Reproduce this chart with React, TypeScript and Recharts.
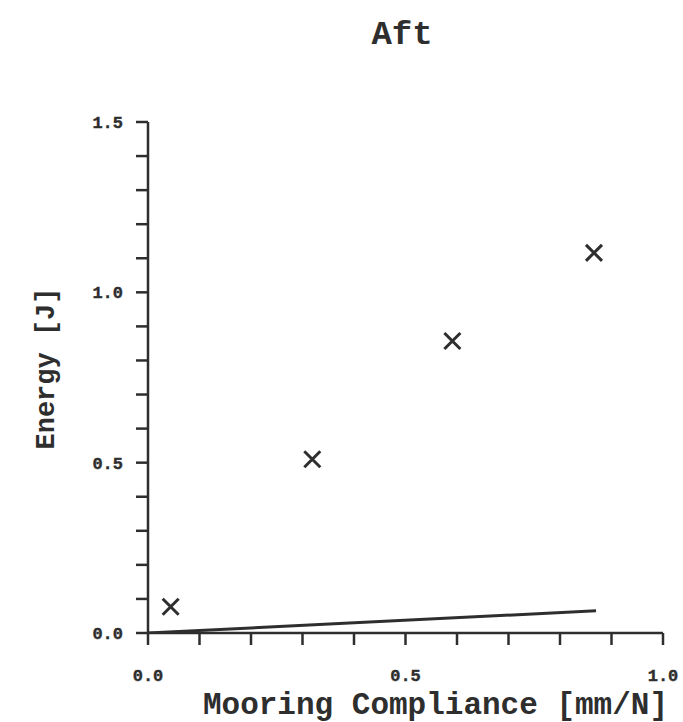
import React from 'react';
import { ScatterChart, Scatter, XAxis, YAxis, Label } from 'recharts';

// measured energy per mooring compliance (crosses)
const compliance = [0.044, 0.319, 0.591, 0.866];
const energy = [0.077, 0.51, 0.857, 1.116];

// theory line endpoints
const lineX = [0, 0.87];
const lineY = [0, 0.065];

const xTicks = [0, 0.1, 0.2, 0.3, 0.4, 0.5, 0.6, 0.7, 0.8, 0.9, 1.0];
const yTicks = [0, 0.1, 0.2, 0.3, 0.4, 0.5, 0.6, 0.7, 0.8, 0.9, 1.0, 1.1, 1.2, 1.3, 1.4, 1.5];
const labeledTicks = [0, 0.5, 1.0, 1.5];

const ink = '#2e2e2e';
const font = '"Liberation Mono", "Courier New", monospace';

const points = compliance.map((x, i) => ({ x, y: energy[i] }));
const line = lineX.map((x, i) => ({ x, y: lineY[i] }));

const fmt = (v: number) =>
    labeledTicks.some(t => Math.abs(t - v) < 1e-6) ? v.toFixed(1) : '';

const Cross = (props: any) => {
    const { cx, cy } = props;
    const r = 8;
    return (
        <path
            d={`M${cx - r},${cy - r}L${cx + r},${cy + r}M${cx - r},${cy + r}L${cx + r},${cy - r}`}
            stroke={ink}
            strokeWidth={3}
            fill="none"
        />
    );
};

const XTick = (props: any) => {
    const { x, y, payload } = props;
    return (
        <text x={x} y={y + 11} textAnchor="middle" fill={ink} stroke={ink} strokeWidth={0.4}
            fontSize={17} fontWeight="bold" fontFamily={font}>
            {fmt(payload.value)}
        </text>
    );
};

const YTick = (props: any) => {
    const { x, y, payload } = props;
    return (
        <text x={x} y={y + 6} textAnchor="end" fill={ink} stroke={ink} strokeWidth={0.4}
            fontSize={17} fontWeight="bold" fontFamily={font}>
            {fmt(payload.value)}
        </text>
    );
};

const YTitle = (props: any) => {
    const { viewBox } = props;
    const x = viewBox.x + 45;
    const y = viewBox.y + viewBox.height / 2 - 9;
    return (
        <text x={x} y={y} dy={9} transform={`rotate(-90, ${x}, ${y})`} textAnchor="middle"
            fill={ink} fontSize={27} fontWeight="bold" fontFamily={font}>
            Energy [J]
        </text>
    );
};

const App: React.FC = () => {
    return (
        <div style={{ position: 'absolute', top: 0, left: 0, width: 683, height: 722, background: '#fff' }}>
            <div style={{
                position: 'absolute',
                top: 15,
                left: 302,
                width: 200,
                textAlign: 'center',
                fontFamily: font,
                fontWeight: 'bold',
                fontSize: 34,
                lineHeight: '40px',
                color: ink
            }}>
                Aft
            </div>
            <ScatterChart width={683} height={722} margin={{ top: 122, right: 20, bottom: 49, left: 0 }}>
                <XAxis
                    type="number"
                    dataKey="x"
                    domain={[0, 1]}
                    ticks={xTicks}
                    interval={0}
                    tickSize={12}
                    tickMargin={25}
                    height={40}
                    stroke={ink}
                    strokeWidth={2.5}
                    tick={<XTick />}
                    allowDataOverflow
                >
                    <Label
                        value="Mooring Compliance [mm/N]"
                        position="bottom"
                        offset={19}
                        dx={30}
                        style={{ fill: ink, fontSize: 31, fontWeight: 'bold', fontFamily: font }}
                    />
                </XAxis>
                <YAxis
                    type="number"
                    dataKey="y"
                    domain={[0, 1.5]}
                    ticks={yTicks}
                    interval={0}
                    tickSize={12}
                    tickMargin={13}
                    width={148}
                    stroke={ink}
                    strokeWidth={2.5}
                    tick={<YTick />}
                    allowDataOverflow
                >
                    <Label content={<YTitle />} />
                </YAxis>
                <Scatter data={line} line={{ stroke: ink, strokeWidth: 3 }} shape={() => <g />} isAnimationActive={false} />
                <Scatter data={points} shape={Cross} isAnimationActive={false} />
            </ScatterChart>
        </div>
    );
};

export default App;
